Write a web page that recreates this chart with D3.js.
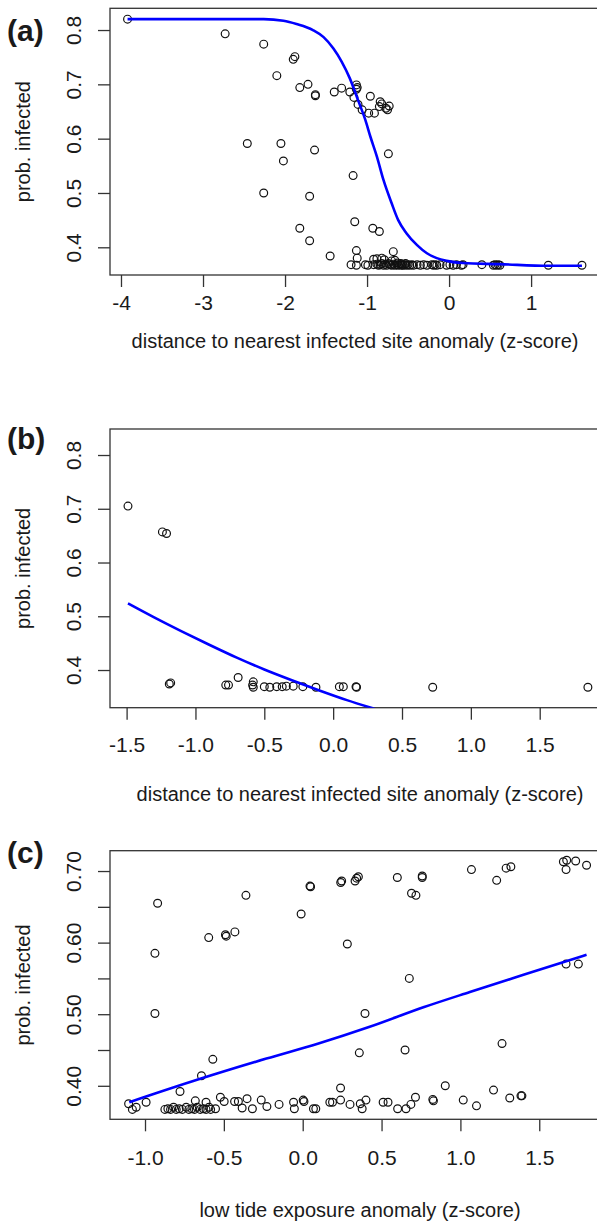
<!DOCTYPE html>
<html>
<head>
<meta charset="utf-8">
<script src="https://cdn.jsdelivr.net/npm/d3@7"></script>
<style>
  html, body { margin: 0; padding: 0; background: #fff; overflow: hidden; }
  svg { display: block; }
  text { font-family: "Liberation Sans", Arial, Helvetica, sans-serif; fill: #1a1a1a; }
</style>
</head>
<body>
<svg id="chart" width="597" height="1226"></svg>
<script>
// ---------- Panel (a): distance to nearest infected site ----------
const aPointX = [-3.92, -2.73, -2.26, -1.90, -1.88, -2.10, -1.82, -1.72, -1.63, -1.63, -1.40, -1.31, -1.21,
  -1.13, -1.12, -1.13, -1.16, -1.11, -1.06, -0.98, -0.91, -0.96, -0.84, -0.82, -0.85, -0.77, -0.73, -0.75,
  -2.46, -2.05, -2.02, -1.64, -0.74, -2.26, -1.17, -1.70, -1.15, -0.93, -0.85, -1.82, -1.70, -1.45, -1.13,
  -1.12, -0.68, -0.92, -0.88, -0.82, -0.79, -0.66, -0.70,
  -1.195, -1.13, -1.02, -0.99, -0.92, -0.88, -0.86, -0.84, -0.82, -0.80, -0.78, -0.76, -0.74, -0.72, -0.70,
  -0.68, -0.66, -0.64, -0.63, -0.62, -0.60, -0.59, -0.58, -0.57, -0.56, -0.54, -0.53, -0.52, -0.50, -0.48,
  -0.455, -0.435, -0.39, -0.35, -0.31, -0.27, -0.21, -0.19, -0.17, -0.15, -0.11, -0.03, 0.01, 0.05, 0.09,
  0.15, 0.17, 0.40, 0.54, 0.56, 0.58, 0.60, 0.62, 1.21, 1.62];
const aPointY = [0.820, 0.793, 0.774, 0.746, 0.751, 0.716, 0.694, 0.700, 0.681, 0.679, 0.686, 0.693, 0.686,
  0.699, 0.694, 0.691, 0.676, 0.663, 0.653, 0.647, 0.647, 0.678, 0.668, 0.664, 0.659, 0.656, 0.660, 0.653,
  0.591, 0.591, 0.559, 0.579, 0.572, 0.500, 0.532, 0.494, 0.447, 0.435, 0.429, 0.435, 0.412, 0.384, 0.394,
  0.380, 0.392, 0.378, 0.379, 0.380, 0.377, 0.376, 0.375,
  0.368, 0.367, 0.368, 0.367, 0.368, 0.369, 0.367, 0.368, 0.370, 0.367, 0.369, 0.367, 0.370, 0.368, 0.367,
  0.369, 0.367, 0.368, 0.371, 0.367, 0.368, 0.370, 0.367, 0.369, 0.367, 0.368, 0.370, 0.367, 0.368, 0.367,
  0.368, 0.367, 0.368, 0.367, 0.368, 0.367, 0.368, 0.367, 0.368, 0.367, 0.368, 0.367, 0.368, 0.367, 0.368,
  0.367, 0.368, 0.368, 0.367, 0.368, 0.367, 0.368, 0.367, 0.367, 0.367];
const aCurveX = [-3.92, -2.26, -2.02, -1.86, -1.66, -1.53, -1.41, -1.31, -1.21, -1.11, -1.02, -0.96, -0.88,
  -0.80, -0.70, -0.62, -0.52, -0.39, -0.27, -0.15, -0.03, 0.17, 0.62, 1.21, 1.62];
const aCurveY = [0.820, 0.820, 0.817, 0.811, 0.800, 0.787, 0.766, 0.742, 0.711, 0.671, 0.634, 0.604, 0.567,
  0.524, 0.481, 0.450, 0.426, 0.404, 0.389, 0.380, 0.375, 0.371, 0.369, 0.366, 0.366];
const aXTicks = [-4, -3, -2, -1, 0, 1];
const aYTicks = [0.4, 0.5, 0.6, 0.7, 0.8];
const aYTickLabels = ["0.4", "0.5", "0.6", "0.7", "0.8"];

// ---------- Panel (b): distance to nearest infected site ----------
const bPointX = [-1.49, -1.24, -1.21, -1.19, -1.18, -0.78, -0.76, -0.69, -0.58, -0.585, -0.58, -0.50, -0.46,
  -0.41, -0.37, -0.34, -0.29, -0.22, -0.125, 0.045, 0.074, 0.166, 0.17, 0.723, 1.85];
const bPointY = [0.705, 0.657, 0.654, 0.374, 0.376, 0.372, 0.372, 0.386, 0.378, 0.372, 0.368, 0.369, 0.368,
  0.369, 0.369, 0.370, 0.370, 0.369, 0.368, 0.369, 0.369, 0.369, 0.368, 0.368, 0.368];
const bCurveX = [-1.49, -1.30, -1.10, -0.90, -0.70, -0.50, -0.30, -0.10, 0.10, 0.30];
const bCurveY = [0.524, 0.498, 0.472, 0.447, 0.423, 0.401, 0.381, 0.362, 0.344, 0.328];
const bXTicks = [-1.5, -1.0, -0.5, 0.0, 0.5, 1.0, 1.5];
const bXTickLabels = ["-1.5", "-1.0", "-0.5", "0.0", "0.5", "1.0", "1.5"];
const bYTicks = [0.4, 0.5, 0.6, 0.7, 0.8];
const bYTickLabels = ["0.4", "0.5", "0.6", "0.7", "0.8"];

// ---------- Panel (c): low tide exposure ----------
const cPointX = [-0.92, -0.937, -0.937, -0.596, -0.49, -0.485, -0.43, -0.36, -0.01, 0.046, 0.05, 0.247, 0.241,
  0.332, 0.342, 0.353, 0.283, 0.60, 0.758, 0.758, 0.69, 0.718, 0.676, 1.07, 1.23, 1.29, 1.32, 1.653, 1.674,
  1.67, 1.731, 1.80, 1.67, 1.748, 0.395, 0.359, 0.649, 1.264, -0.57, -0.642, -0.778,
  -1.104, -1.08, -1.056, -0.993,
  -0.874, -0.855, -0.838, -0.819, -0.802, -0.783, -0.763, -0.739, -0.722, -0.703, -0.686, -0.669, -0.650,
  -0.630, -0.613, -0.594, -0.584, -0.553,
  -0.681, -0.613, -0.522, -0.498, -0.432, -0.408, -0.384, -0.353, -0.319, -0.263, -0.227, -0.15, -0.058,
  -0.053, 0.003, 0.008, 0.068, 0.083, 0.172, 0.189, 0.24, 0.24, 0.30, 0.365, 0.377, 0.401, 0.51, 0.541,
  0.602, 0.655, 0.686, 0.715, 0.825, 0.829, 0.904, 1.018, 1.102, 1.21, 1.313, 1.384, 1.39];
const cPointY = [0.655, 0.585, 0.501, 0.607, 0.611, 0.609, 0.615, 0.666, 0.640, 0.679, 0.678, 0.686, 0.684,
  0.686, 0.690, 0.692, 0.598, 0.691, 0.693, 0.691, 0.669, 0.666, 0.550, 0.702, 0.687, 0.704, 0.706, 0.713, 0.715,
  0.702, 0.714, 0.708, 0.570, 0.570, 0.501, 0.446, 0.450, 0.459, 0.437, 0.414, 0.392,
  0.375, 0.367, 0.370, 0.377,
  0.367, 0.368, 0.367, 0.370, 0.367, 0.368, 0.367, 0.370, 0.367, 0.368, 0.367, 0.370, 0.367,
  0.368, 0.367, 0.370, 0.367, 0.368,
  0.379, 0.377, 0.384, 0.378, 0.378, 0.378, 0.369, 0.382, 0.368, 0.380, 0.371, 0.374, 0.377,
  0.368, 0.380, 0.378, 0.368, 0.368, 0.377, 0.377, 0.397, 0.380, 0.374, 0.375, 0.368, 0.380, 0.377, 0.377,
  0.368, 0.368, 0.374, 0.384, 0.381, 0.379, 0.400, 0.380, 0.372, 0.394, 0.383, 0.386, 0.386];
const cCurveX = [-1.10, -0.66, -0.23, 0.10, 0.42, 0.77, 1.06, 1.40, 1.80];
const cCurveY = [0.377, 0.409, 0.438, 0.459, 0.482, 0.510, 0.531, 0.555, 0.583];
const cXTicks = [-1.0, -0.5, 0.0, 0.5, 1.0, 1.5];
const cXTickLabels = ["-1.0", "-0.5", "0.0", "0.5", "1.0", "1.5"];
const cYTicks = [0.40, 0.45, 0.50, 0.55, 0.60, 0.65, 0.70];
const cYTickLabels = ["0.40", "", "0.50", "", "0.60", "", "0.70"];

const xTitleDist = "distance to nearest infected site anomaly (z-score)";
const xTitleTide = "low tide exposure anomaly (z-score)";
const yTitle = "prob. infected";

// ---------- drawing ----------
const svg = d3.select("#chart");

const panels = [
  { tag: "(a)", id: "a", px: aPointX, py: aPointY, cx: aCurveX, cy: aCurveY,
    xTicks: aXTicks, xLabels: aXTicks.map(String), yTicks: aYTicks, yLabels: aYTickLabels, xTitle: xTitleDist,
    usrX: [-4.134, 1.84], usrY: [0.349, 0.840], box: { l: 110, r: 600, t: 8.3, b: 275 },
    tagY: 41, xLabY: 35, xTitleY: 73 },
  { tag: "(b)", id: "b", px: bPointX, py: bPointY, cx: bCurveX, cy: bCurveY,
    xTicks: bXTicks, xLabels: bXTickLabels, yTicks: bYTicks, yLabels: bYTickLabels, xTitle: xTitleDist,
    usrX: [-1.6206, 2.0105], usrY: [0.3299, 0.8484], box: { l: 110, r: 610, t: 429, b: 707.7 },
    tagY: 449, xLabY: 44, xTitleY: 93 },
  { tag: "(c)", id: "c", px: cPointX, py: cPointY, cx: cCurveX, cy: cCurveY,
    xTicks: cXTicks, xLabels: cXTickLabels, yTicks: cYTicks, yLabels: cYTickLabels, xTitle: xTitleTide,
    usrX: [-1.222, 1.9486], usrY: [0.3532, 0.7284], box: { l: 110, r: 610, t: 850.7, b: 1119.3 },
    tagY: 863, xLabY: 46, xTitleY: 98 }
];

const axisColor = "#333";

panels.forEach(p => {
  const B = p.box;
  const x = d3.scaleLinear().domain(p.usrX).range([B.l, B.r]);
  const y = d3.scaleLinear().domain(p.usrY).range([B.b, B.t]);
  const g = svg.append("g").attr("class", "panel-" + p.id);

  g.append("clipPath").attr("id", "clip-" + p.id)
    .append("rect").attr("x", B.l).attr("y", B.t).attr("width", B.r - B.l).attr("height", B.b - B.t);

  // x axis (bottom)
  const xAxis = d3.axisBottom(x).tickValues(p.xTicks).tickSize(12).tickPadding(0)
    .tickFormat((d, i) => p.xLabels[i]);
  const gx = g.append("g").attr("transform", `translate(0,${B.b})`).call(xAxis);
  gx.select(".domain").remove();
  gx.selectAll(".tick line").attr("stroke", axisColor).attr("stroke-width", 1.3);
  gx.selectAll(".tick text").attr("y", p.xLabY).attr("dy", null)
    .style("font-size", "21px").attr("fill", "#1a1a1a");

  // y axis (left), labels parallel to the axis
  const yAxis = d3.axisLeft(y).tickValues(p.yTicks).tickSize(12).tickPadding(0)
    .tickFormat((d, i) => p.yLabels[i]);
  const gy = g.append("g").attr("transform", `translate(${B.l},0)`).call(yAxis);
  gy.select(".domain").remove();
  gy.selectAll(".tick line").attr("stroke", axisColor).attr("stroke-width", 1.3);
  gy.selectAll(".tick text")
    .attr("x", null).attr("dy", null)
    .attr("text-anchor", "middle")
    .attr("transform", "translate(-29,0) rotate(-90)")
    .style("font-size", "21px").attr("fill", "#1a1a1a");

  // plot frame
  g.append("rect").attr("x", B.l).attr("y", B.t).attr("width", B.r - B.l).attr("height", B.b - B.t)
    .attr("fill", "none").attr("stroke", axisColor).attr("stroke-width", 1.3);

  const inner = g.append("g").attr("clip-path", `url(#clip-${p.id})`);

  // observations
  inner.selectAll("circle").data(p.px.map((v, i) => [v, p.py[i]])).join("circle")
    .attr("cx", d => x(d[0])).attr("cy", d => y(d[1])).attr("r", 3.9)
    .attr("fill", "none").attr("stroke", "#111").attr("stroke-width", 1.2);

  // fitted curve
  const line = d3.line().x(d => x(d[0])).y(d => y(d[1])).curve(d3.curveMonotoneX);
  inner.append("path").datum(p.cx.map((v, i) => [v, p.cy[i]]))
    .attr("d", line).attr("fill", "none").attr("stroke", "#0000ff").attr("stroke-width", 2.6)
    .attr("stroke-linejoin", "round");

  // axis titles
  g.append("text").attr("x", (B.l + B.r) / 2).attr("y", B.b + p.xTitleY)
    .attr("text-anchor", "middle").style("font-size", "20px").text(p.xTitle);
  g.append("text")
    .attr("transform", `translate(30,${(B.t + B.b) / 2}) rotate(-90)`)
    .attr("text-anchor", "middle").style("font-size", "20px").text(yTitle);

  // panel tag
  g.append("text").attr("x", 7).attr("y", p.tagY)
    .style("font-size", "30px").style("font-weight", "bold").attr("fill", "#000").text(p.tag);
});
</script>
</body>
</html>
